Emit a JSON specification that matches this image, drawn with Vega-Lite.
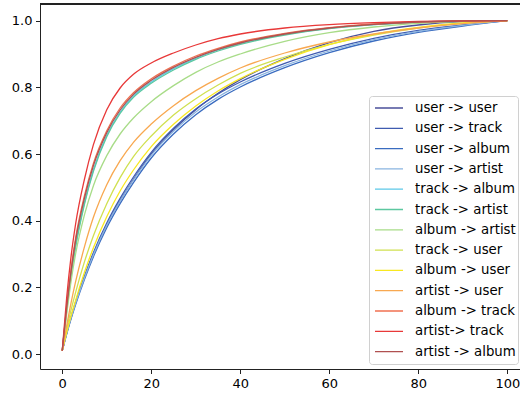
{
  "$schema": "https://vega.github.io/schema/vega-lite/v6.json",
  "width": 480,
  "height": 365,
  "autosize": {"type": "none"},
  "padding": {"left": 40, "top": 4, "right": 0, "bottom": 28},
  "background": "#ffffff",
  "config": {
    "view": {"stroke": null},
    "font": "DejaVu Sans",
    "axis": {
      "grid": false,
      "domain": true,
      "domainColor": "#222222",
      "domainWidth": 1,
      "tickColor": "#222222",
      "tickSize": 4.5,
      "tickWidth": 1,
      "labelFont": "DejaVu Sans",
      "labelFontSize": 13,
      "labelColor": "#000000",
      "title": null
    },
    "legend": {
      "orient": "none",
      "legendX": 329,
      "legendY": 92,
      "strokeColor": "#d0d0d0",
      "fillColor": "#ffffff",
      "cornerRadius": 3,
      "padding": 2,
      "symbolType": "stroke",
      "symbolSize": 784,
      "symbolStrokeWidth": 1.3,
      "clipHeight": 20,
      "rowPadding": 0.3,
      "labelFont": "DejaVu Sans",
      "labelFontSize": 13.3,
      "labelColor": "#000000",
      "labelOffset": 11,
      "symbolOffset": 3,
      "labelLimit": 300,
      "title": null
    }
  },
  "data": {"values": [
    {"s":"user -> user","x":0,"y":0.01},{"s":"user -> user","x":1,"y":0.063},{"s":"user -> user","x":2,"y":0.11},{"s":"user -> user","x":3,"y":0.153},{"s":"user -> user","x":5,"y":0.23},{"s":"user -> user","x":7,"y":0.3},{"s":"user -> user","x":10,"y":0.388},{"s":"user -> user","x":13,"y":0.46},{"s":"user -> user","x":16,"y":0.524},{"s":"user -> user","x":20,"y":0.6},{"s":"user -> user","x":25,"y":0.673},{"s":"user -> user","x":30,"y":0.733},{"s":"user -> user","x":35,"y":0.782},{"s":"user -> user","x":40,"y":0.823},{"s":"user -> user","x":50,"y":0.886},{"s":"user -> user","x":60,"y":0.934},{"s":"user -> user","x":70,"y":0.968},{"s":"user -> user","x":80,"y":0.987},{"s":"user -> user","x":90,"y":0.997},{"s":"user -> user","x":100,"y":1.0},

    {"s":"user -> track","x":0,"y":0.01},{"s":"user -> track","x":1,"y":0.064},{"s":"user -> track","x":2,"y":0.112},{"s":"user -> track","x":3,"y":0.156},{"s":"user -> track","x":5,"y":0.234},{"s":"user -> track","x":7,"y":0.304},{"s":"user -> track","x":10,"y":0.393},{"s":"user -> track","x":13,"y":0.467},{"s":"user -> track","x":16,"y":0.531},{"s":"user -> track","x":20,"y":0.605},{"s":"user -> track","x":25,"y":0.677},{"s":"user -> track","x":30,"y":0.735},{"s":"user -> track","x":35,"y":0.78},{"s":"user -> track","x":40,"y":0.816},{"s":"user -> track","x":50,"y":0.872},{"s":"user -> track","x":60,"y":0.914},{"s":"user -> track","x":70,"y":0.947},{"s":"user -> track","x":80,"y":0.971},{"s":"user -> track","x":90,"y":0.987},{"s":"user -> track","x":100,"y":1.0},

    {"s":"user -> album","x":0,"y":0.01},{"s":"user -> album","x":1,"y":0.06},{"s":"user -> album","x":2,"y":0.106},{"s":"user -> album","x":3,"y":0.148},{"s":"user -> album","x":5,"y":0.224},{"s":"user -> album","x":7,"y":0.292},{"s":"user -> album","x":10,"y":0.379},{"s":"user -> album","x":13,"y":0.451},{"s":"user -> album","x":16,"y":0.514},{"s":"user -> album","x":20,"y":0.588},{"s":"user -> album","x":25,"y":0.66},{"s":"user -> album","x":30,"y":0.718},{"s":"user -> album","x":35,"y":0.764},{"s":"user -> album","x":40,"y":0.801},{"s":"user -> album","x":50,"y":0.859},{"s":"user -> album","x":60,"y":0.904},{"s":"user -> album","x":70,"y":0.939},{"s":"user -> album","x":80,"y":0.965},{"s":"user -> album","x":90,"y":0.984},{"s":"user -> album","x":100,"y":1.0},

    {"s":"user -> artist","x":0,"y":0.01},{"s":"user -> artist","x":1,"y":0.062},{"s":"user -> artist","x":2,"y":0.109},{"s":"user -> artist","x":3,"y":0.152},{"s":"user -> artist","x":5,"y":0.229},{"s":"user -> artist","x":7,"y":0.298},{"s":"user -> artist","x":10,"y":0.386},{"s":"user -> artist","x":13,"y":0.459},{"s":"user -> artist","x":16,"y":0.522},{"s":"user -> artist","x":20,"y":0.596},{"s":"user -> artist","x":25,"y":0.668},{"s":"user -> artist","x":30,"y":0.726},{"s":"user -> artist","x":35,"y":0.771},{"s":"user -> artist","x":40,"y":0.808},{"s":"user -> artist","x":50,"y":0.865},{"s":"user -> artist","x":60,"y":0.909},{"s":"user -> artist","x":70,"y":0.943},{"s":"user -> artist","x":80,"y":0.968},{"s":"user -> artist","x":90,"y":0.986},{"s":"user -> artist","x":100,"y":1.0},

    {"s":"track -> album","x":0,"y":0.01},{"s":"track -> album","x":1,"y":0.135},{"s":"track -> album","x":2,"y":0.24},{"s":"track -> album","x":3,"y":0.327},{"s":"track -> album","x":5,"y":0.455},{"s":"track -> album","x":7,"y":0.553},{"s":"track -> album","x":10,"y":0.656},{"s":"track -> album","x":13,"y":0.726},{"s":"track -> album","x":16,"y":0.774},{"s":"track -> album","x":20,"y":0.816},{"s":"track -> album","x":25,"y":0.856},{"s":"track -> album","x":30,"y":0.887},{"s":"track -> album","x":35,"y":0.912},{"s":"track -> album","x":40,"y":0.931},{"s":"track -> album","x":50,"y":0.959},{"s":"track -> album","x":60,"y":0.977},{"s":"track -> album","x":70,"y":0.988},{"s":"track -> album","x":80,"y":0.995},{"s":"track -> album","x":90,"y":0.999},{"s":"track -> album","x":100,"y":1.0},

    {"s":"track -> artist","x":0,"y":0.01},{"s":"track -> artist","x":1,"y":0.13},{"s":"track -> artist","x":2,"y":0.235},{"s":"track -> artist","x":3,"y":0.32},{"s":"track -> artist","x":5,"y":0.45},{"s":"track -> artist","x":7,"y":0.548},{"s":"track -> artist","x":10,"y":0.652},{"s":"track -> artist","x":13,"y":0.722},{"s":"track -> artist","x":16,"y":0.77},{"s":"track -> artist","x":20,"y":0.812},{"s":"track -> artist","x":25,"y":0.852},{"s":"track -> artist","x":30,"y":0.884},{"s":"track -> artist","x":35,"y":0.909},{"s":"track -> artist","x":40,"y":0.929},{"s":"track -> artist","x":50,"y":0.957},{"s":"track -> artist","x":60,"y":0.976},{"s":"track -> artist","x":70,"y":0.988},{"s":"track -> artist","x":80,"y":0.995},{"s":"track -> artist","x":90,"y":0.999},{"s":"track -> artist","x":100,"y":1.0},

    {"s":"album -> artist","x":0,"y":0.01},{"s":"album -> artist","x":1,"y":0.12},{"s":"album -> artist","x":2,"y":0.22},{"s":"album -> artist","x":3,"y":0.3},{"s":"album -> artist","x":5,"y":0.418},{"s":"album -> artist","x":7,"y":0.505},{"s":"album -> artist","x":10,"y":0.595},{"s":"album -> artist","x":13,"y":0.66},{"s":"album -> artist","x":16,"y":0.708},{"s":"album -> artist","x":20,"y":0.757},{"s":"album -> artist","x":25,"y":0.805},{"s":"album -> artist","x":30,"y":0.845},{"s":"album -> artist","x":35,"y":0.876},{"s":"album -> artist","x":40,"y":0.9},{"s":"album -> artist","x":50,"y":0.938},{"s":"album -> artist","x":60,"y":0.964},{"s":"album -> artist","x":70,"y":0.981},{"s":"album -> artist","x":80,"y":0.992},{"s":"album -> artist","x":90,"y":0.998},{"s":"album -> artist","x":100,"y":1.0},

    {"s":"track -> user","x":0,"y":0.01},{"s":"track -> user","x":1,"y":0.075},{"s":"track -> user","x":2,"y":0.133},{"s":"track -> user","x":3,"y":0.185},{"s":"track -> user","x":5,"y":0.277},{"s":"track -> user","x":7,"y":0.355},{"s":"track -> user","x":10,"y":0.451},{"s":"track -> user","x":13,"y":0.529},{"s":"track -> user","x":16,"y":0.592},{"s":"track -> user","x":20,"y":0.654},{"s":"track -> user","x":25,"y":0.717},{"s":"track -> user","x":30,"y":0.766},{"s":"track -> user","x":35,"y":0.807},{"s":"track -> user","x":40,"y":0.842},{"s":"track -> user","x":50,"y":0.891},{"s":"track -> user","x":60,"y":0.929},{"s":"track -> user","x":70,"y":0.957},{"s":"track -> user","x":80,"y":0.978},{"s":"track -> user","x":90,"y":0.992},{"s":"track -> user","x":100,"y":1.0},

    {"s":"album -> user","x":0,"y":0.01},{"s":"album -> user","x":1,"y":0.065},{"s":"album -> user","x":2,"y":0.115},{"s":"album -> user","x":3,"y":0.161},{"s":"album -> user","x":5,"y":0.245},{"s":"album -> user","x":7,"y":0.319},{"s":"album -> user","x":10,"y":0.412},{"s":"album -> user","x":13,"y":0.489},{"s":"album -> user","x":16,"y":0.552},{"s":"album -> user","x":20,"y":0.622},{"s":"album -> user","x":25,"y":0.689},{"s":"album -> user","x":30,"y":0.744},{"s":"album -> user","x":35,"y":0.789},{"s":"album -> user","x":40,"y":0.826},{"s":"album -> user","x":50,"y":0.884},{"s":"album -> user","x":60,"y":0.928},{"s":"album -> user","x":70,"y":0.959},{"s":"album -> user","x":80,"y":0.98},{"s":"album -> user","x":90,"y":0.993},{"s":"album -> user","x":100,"y":1.0},

    {"s":"artist -> user","x":0,"y":0.01},{"s":"artist -> user","x":1,"y":0.085},{"s":"artist -> user","x":2,"y":0.155},{"s":"artist -> user","x":3,"y":0.217},{"s":"artist -> user","x":5,"y":0.322},{"s":"artist -> user","x":7,"y":0.41},{"s":"artist -> user","x":10,"y":0.508},{"s":"artist -> user","x":13,"y":0.58},{"s":"artist -> user","x":16,"y":0.635},{"s":"artist -> user","x":20,"y":0.69},{"s":"artist -> user","x":25,"y":0.745},{"s":"artist -> user","x":30,"y":0.79},{"s":"artist -> user","x":35,"y":0.827},{"s":"artist -> user","x":40,"y":0.858},{"s":"artist -> user","x":50,"y":0.903},{"s":"artist -> user","x":60,"y":0.936},{"s":"artist -> user","x":70,"y":0.96},{"s":"artist -> user","x":80,"y":0.978},{"s":"artist -> user","x":90,"y":0.991},{"s":"artist -> user","x":100,"y":1.0},

    {"s":"album -> track","x":0,"y":0.01},{"s":"album -> track","x":1,"y":0.145},{"s":"album -> track","x":2,"y":0.257},{"s":"album -> track","x":3,"y":0.348},{"s":"album -> track","x":5,"y":0.476},{"s":"album -> track","x":7,"y":0.572},{"s":"album -> track","x":10,"y":0.67},{"s":"album -> track","x":13,"y":0.738},{"s":"album -> track","x":16,"y":0.784},{"s":"album -> track","x":20,"y":0.826},{"s":"album -> track","x":25,"y":0.864},{"s":"album -> track","x":30,"y":0.894},{"s":"album -> track","x":35,"y":0.917},{"s":"album -> track","x":40,"y":0.936},{"s":"album -> track","x":50,"y":0.962},{"s":"album -> track","x":60,"y":0.979},{"s":"album -> track","x":70,"y":0.99},{"s":"album -> track","x":80,"y":0.996},{"s":"album -> track","x":90,"y":0.999},{"s":"album -> track","x":100,"y":1.0},

    {"s":"artist-> track","x":0,"y":0.01},{"s":"artist-> track","x":1,"y":0.17},{"s":"artist-> track","x":2,"y":0.295},{"s":"artist-> track","x":3,"y":0.39},{"s":"artist-> track","x":5,"y":0.525},{"s":"artist-> track","x":7,"y":0.628},{"s":"artist-> track","x":10,"y":0.733},{"s":"artist-> track","x":13,"y":0.798},{"s":"artist-> track","x":16,"y":0.839},{"s":"artist-> track","x":20,"y":0.873},{"s":"artist-> track","x":25,"y":0.903},{"s":"artist-> track","x":30,"y":0.927},{"s":"artist-> track","x":35,"y":0.946},{"s":"artist-> track","x":40,"y":0.96},{"s":"artist-> track","x":50,"y":0.978},{"s":"artist-> track","x":60,"y":0.988},{"s":"artist-> track","x":70,"y":0.994},{"s":"artist-> track","x":80,"y":0.998},{"s":"artist-> track","x":90,"y":0.9995},{"s":"artist-> track","x":100,"y":1.0},

    {"s":"artist -> album","x":0,"y":0.01},{"s":"artist -> album","x":1,"y":0.14},{"s":"artist -> album","x":2,"y":0.25},{"s":"artist -> album","x":3,"y":0.34},{"s":"artist -> album","x":5,"y":0.468},{"s":"artist -> album","x":7,"y":0.565},{"s":"artist -> album","x":10,"y":0.664},{"s":"artist -> album","x":13,"y":0.732},{"s":"artist -> album","x":16,"y":0.779},{"s":"artist -> album","x":20,"y":0.821},{"s":"artist -> album","x":25,"y":0.86},{"s":"artist -> album","x":30,"y":0.89},{"s":"artist -> album","x":35,"y":0.914},{"s":"artist -> album","x":40,"y":0.933},{"s":"artist -> album","x":50,"y":0.96},{"s":"artist -> album","x":60,"y":0.978},{"s":"artist -> album","x":70,"y":0.989},{"s":"artist -> album","x":80,"y":0.996},{"s":"artist -> album","x":90,"y":0.999},{"s":"artist -> album","x":100,"y":1.0}
  ]},
  "layer": [
    {
      "mark": {"type": "line", "strokeWidth": 1.3, "interpolate": "monotone"},
      "encoding": {
        "x": {"field": "x", "type": "quantitative",
              "scale": {"domain": [-5, 102.85], "nice": false, "zero": false},
              "axis": {"values": [0, 20, 40, 60, 80, 100], "labelPadding": 4}},
        "y": {"field": "y", "type": "quantitative",
              "scale": {"domain": [-0.045, 1.05], "nice": false, "zero": false},
              "axis": {"values": [0, 0.2, 0.4, 0.6, 0.8, 1.0], "format": ".1f", "labelPadding": 3.5}},
        "color": {"field": "s", "type": "nominal",
                  "scale": {
                    "domain": ["user -> user", "user -> track", "user -> album", "user -> artist", "track -> album", "track -> artist", "album -> artist", "track -> user", "album -> user", "artist -> user", "album -> track", "artist-> track", "artist -> album"],
                    "range": ["#4a4f9a", "#3f5bb0", "#3a6cc0", "#8ab4e0", "#5cc8e8", "#5cc8a0", "#a8dc88", "#d0e050", "#f8e820", "#f8a850", "#f07050", "#e83838", "#b05050"]
                  },
                  "legend": {}}
      }
    },
    {
      "mark": {"type": "rule", "color": "#222222", "strokeWidth": 1},
      "encoding": {"y": {"datum": 1.05}}
    }
  ]
}
